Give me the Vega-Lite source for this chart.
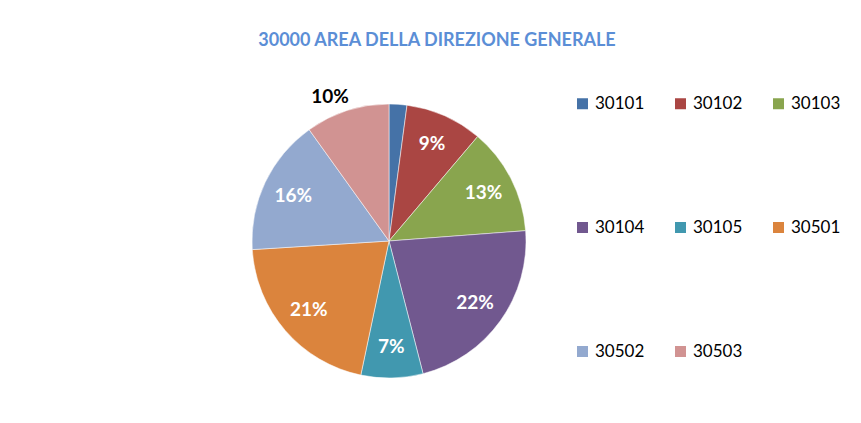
{
 "$schema": "https://vega.github.io/schema/vega-lite/v6.json",
 "autosize": "none",
 "padding": {"left": 5, "top": 9, "right": 88, "bottom": 0},
 "width": 768,
 "height": 464,
 "background": "white",
 "config": {"view": {"stroke": null}, "font": "Lato"},
 "title": {"text": "30000 AREA DELLA DIREZIONE GENERALE", "font": "Lato", "fontSize": 18, "fontWeight": "bold", "color": "#5B8ED6", "anchor": "middle", "frame": "group", "dx": 48, "offset": -41},
 "data": {"values": [
  {"code": "30101", "share": 0.021},
  {"code": "30102", "share": 0.091},
  {"code": "30103", "share": 0.126},
  {"code": "30104", "share": 0.222},
  {"code": "30105", "share": 0.073},
  {"code": "30501", "share": 0.207},
  {"code": "30502", "share": 0.161},
  {"code": "30503", "share": 0.099}
 ]},
 "encoding": {
  "theta": {"field": "share", "type": "quantitative", "stack": true},
  "order": {"field": "code", "type": "ordinal"}
 },
 "layer": [
  {
   "mark": {"type": "arc", "outerRadius": 137, "stroke": "white", "strokeWidth": 0.5},
   "encoding": {
    "color": {"field": "code", "type": "nominal",
     "scale": {"domain": ["30101","30102","30103","30104","30105","30501","30502","30503"],
               "range": ["#4572A7","#AA4643","#89A54E","#71588F","#4198AF","#DB843D","#93A9CF","#D19392"]},
     "legend": {"orient": "none", "legendX": 569, "legendY": 86, "columns": 3, "direction": "horizontal", "title": null,
      "symbolType": "square", "symbolSize": 121, "symbolStrokeWidth": 0,
      "labelFont": "Lato", "labelFontSize": 17, "labelColor": "black", "labelOffset": 4,
      "columnPadding": 27, "rowPadding": 106}}
   }
  },
  {
   "mark": {"type": "text", "radius": 106, "font": "Lato", "fontSize": 19, "fontWeight": "bold", "fill": "white"},
   "encoding": {
    "detail": {"field": "code"},
    "text": {"field": "share", "type": "quantitative", "format": ".0%"},
    "opacity": {"condition": {"test": "datum.code == '30101' || datum.code == '30503'", "value": 0}, "value": 1}
   }
  },
  {
   "mark": {"type": "text", "radius": 157, "dx": -11, "dy": 5, "font": "Lato", "fontSize": 19, "fontWeight": "bold", "fill": "black"},
   "encoding": {
    "detail": {"field": "code"},
    "text": {"field": "share", "type": "quantitative", "format": ".0%"},
    "opacity": {"condition": {"test": "datum.code == '30503'", "value": 1}, "value": 0}
   }
  }
 ]
}
